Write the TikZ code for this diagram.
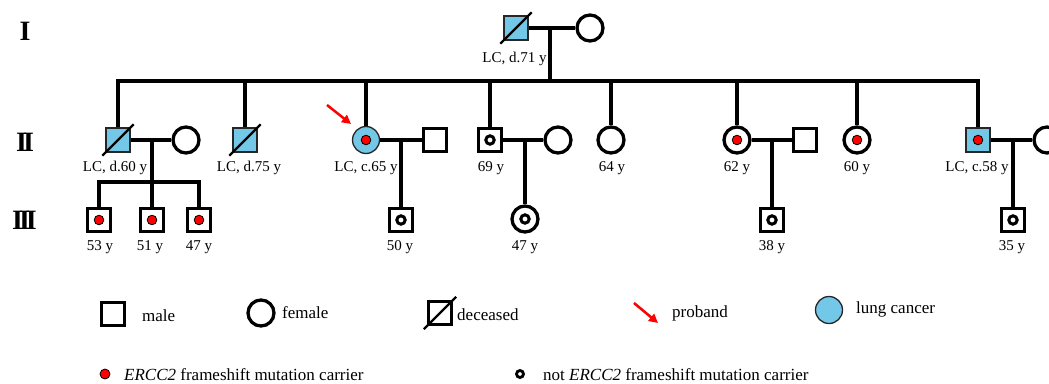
\documentclass[tikz,border=0pt]{standalone}
\usepackage{fontspec}
\setmainfont{Liberation Serif}
\usetikzlibrary{arrows.meta,calc}
\definecolor{lcblue}{RGB}{115,199,231}
\definecolor{mutred}{RGB}{255,0,0}

\tikzset{
  ind/.style={draw=black, line width=3.3pt, inner sep=0pt, fill=white},
  male/.style={ind, rectangle, minimum size=23pt},
  female/.style={ind, circle, minimum size=26pt},
  affected/.style={fill=lcblue, line width=1.3pt, draw=black!85, minimum size=24pt},
  carrier/.style={path picture={\filldraw[fill=mutred,draw=black,line width=0.8pt]
      (path picture bounding box.center) circle (4.8pt);}},
  noncarrier/.style={path picture={\draw[line width=3pt]
      (path picture bounding box.center) circle (4.2pt);}},
  rel/.style={line width=3.3pt},
  slash/.style={line width=2.2pt},
  lbl/.style={font=\fontsize{15}{18}\selectfont, anchor=base, inner sep=0pt},
  gen/.style={font=\fontsize{28}{30}\selectfont\bfseries, inner sep=0pt},
  key/.style={font=\fontsize{17}{20}\selectfont, anchor=base west, inner sep=0pt},
  probarrow/.style={draw=mutred, line width=2.5pt, -{Triangle[length=9pt,width=9pt]}},
}

\begin{document}
\begin{tikzpicture}[x=1pt,y=-1pt]
\useasboundingbox (0,0) rectangle (1049,383);

% generation numerals
\node[gen] (g1) at (25,31) {I};
\node[gen] (g2) at (25,142) {I\kern-4pt I};
\node[gen] (g3) at (24.5,220) {I\kern-4pt I\kern-4pt I};

% generation I
\node[male, affected] (I1) at (516,28) {};
\node[female] (I2) at (590,28) {};

% generation II
\node[male, affected] (II1) at (118,140) {};
\node[female] (II2) at (186,140) {};
\node[male, affected] (II3) at (245,140) {};
\node[female, affected, carrier, minimum size=27pt] (II4) at (366,140) {};
\node[male] (II5) at (435,140) {};
\node[male, noncarrier] (II6) at (490,140) {};
\node[female] (II7) at (558,140) {};
\node[female] (II8) at (611,140) {};
\node[female, carrier] (II9) at (737,140) {};
\node[male] (II10) at (805,140) {};
\node[female, carrier] (II11) at (857,140) {};
\node[male, affected, carrier] (II12) at (978,140) {};
\node[female] (II13) at (1047,140) {};

% generation III
\node[male, carrier] (III1) at (99,220) {};
\node[male, carrier] (III2) at (152,220) {};
\node[male, carrier] (III3) at (199,220) {};
\node[male, noncarrier] (III4) at (401,220) {};
\node[female, noncarrier] (III5) at (525,219) {};
\node[male, noncarrier] (III6) at (772,220) {};
\node[male, noncarrier] (III7) at (1013,220) {};

% deceased marks
\foreach \p in {I1,II1,II3}
  \draw[slash] ($(\p.south west)+(-3,3)$) -- ($(\p.north east)+(3,-3)$);

% couples and descent lines
\coordinate (j1) at (550,28);
\coordinate (bar1) at (550,81);
\draw[rel] (I1) -- (I2);
\draw[rel] (j1) -- (bar1);
\draw[rel] (II1.north) -- (II1.north |- bar1) -- (II12.north |- bar1) -- (II12.north);
\foreach \c in {II3,II4,II6,II8,II9,II11}
  \draw[rel] (\c.north) -- (\c.north |- bar1);

\coordinate (j2) at (152,140);
\coordinate (bar2) at (152,182);
\draw[rel] (II1) -- (II2);
\draw[rel] (III1.north) -- (III1.north |- bar2) -- (III3.north |- bar2) -- (III3.north);
\draw[rel] (j2) -- (III2.north);

\coordinate (j4) at (401,140);
\draw[rel] (II4) -- (II5);
\draw[rel] (j4) -- (III4.north);

\coordinate (j6) at (525,140);
\draw[rel] (II6) -- (II7);
\draw[rel] (j6) -- (III5.north);

\coordinate (j9) at (772,140);
\draw[rel] (II9) -- (II10);
\draw[rel] (j9) -- (III6.north);

\coordinate (j12) at (1013,140);
\draw[rel] (II12) -- (II13);
\draw[rel] (j12) -- (III7.north);

% proband arrow
\coordinate (pa1) at (327,105);
\coordinate (pa2) at (351,124);
\draw[probarrow] (pa1) -- (pa2);

% labels
\node[lbl] (lI1) at (514.5,62) {LC, d.71 y};
\node[lbl] (lII1) at (115,171) {LC, d.60 y};
\node[lbl] (lII3) at (249,171) {LC, d.75 y};
\node[lbl] (lII4) at (366,171) {LC, c.65 y};
\node[lbl] (lII6) at (491,171) {69 y};
\node[lbl] (lII8) at (612,171) {64 y};
\node[lbl] (lII9) at (737,171) {62 y};
\node[lbl] (lII11) at (857,171) {60 y};
\node[lbl] (lII12) at (977,171) {LC, c.58 y};
\node[lbl] (lIII1) at (100,250) {53 y};
\node[lbl] (lIII2) at (150,250) {51 y};
\node[lbl] (lIII3) at (199,250) {47 y};
\node[lbl] (lIII4) at (400,250) {50 y};
\node[lbl] (lIII5) at (525,250) {47 y};
\node[lbl] (lIII6) at (772,250) {38 y};
\node[lbl] (lIII7) at (1012,250) {35 y};

% legend
\node[male] (k1) at (113,314) {};
\node[key] (t1) at (142,321) {male};
\node[female] (k2) at (261,313) {};
\node[key] (t2) at (282,318) {female};
\node[male] (k3) at (440,313) {};
\draw[slash] ($(k3.south west)+(-3,3)$) -- ($(k3.north east)+(3,-3)$);
\node[key] (t3) at (457,320) {deceased};
\coordinate (ka1) at (634,303);
\coordinate (ka2) at (658,323);
\draw[probarrow] (ka1) -- (ka2);
\node[key] (t4) at (672,317) {proband};
\node[female, affected, minimum size=27pt] (k5) at (829,310) {};
\node[key] (t5) at (856,313) {lung cancer};

\node[circle, fill=mutred, draw=black, line width=0.8pt, minimum size=10pt, inner sep=0pt] (k6) at (105,374) {};
\node[key] (t6) at (124,380) {\textit{ERCC2} frameshift mutation carrier};
\node[circle, draw=black, line width=2.8pt, minimum size=7pt, inner sep=0pt] (k7) at (520,374) {};
\node[key] (t7) at (543,380) {not \textit{ERCC2} frameshift mutation carrier};
\end{tikzpicture}
\end{document}
